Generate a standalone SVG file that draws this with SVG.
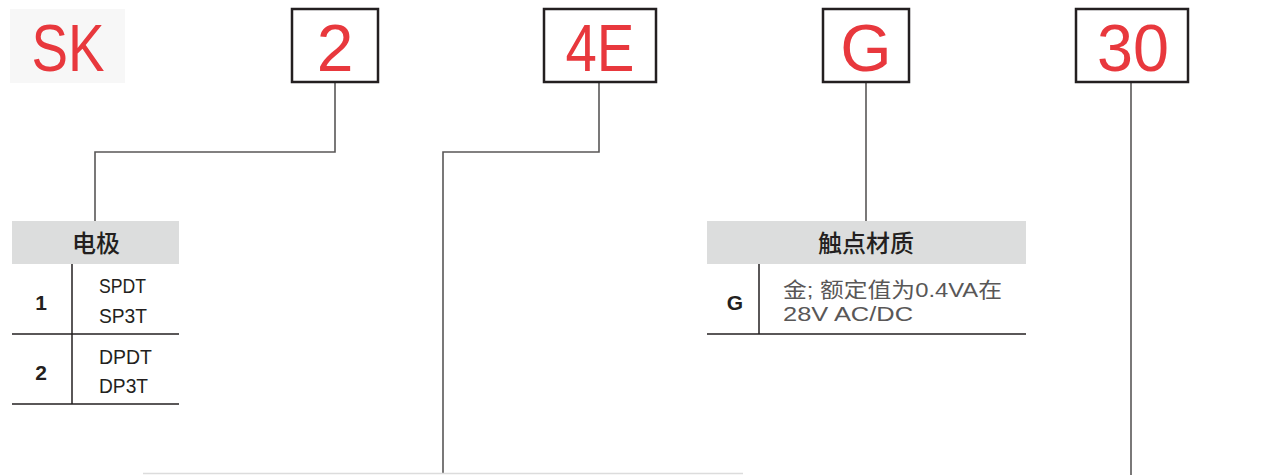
<svg xmlns="http://www.w3.org/2000/svg" width="1286" height="475" viewBox="0 0 1286 475">
<style>
.code{font-family:"Liberation Sans","Noto Sans CJK SC",sans-serif;font-size:66px;fill:#e8383d;text-anchor:middle}
.box{fill:#fff;stroke:#231f20;stroke-width:2.5}
.conn{fill:none;stroke:#595757;stroke-width:1.6}
.hdr{fill:#dcdddd}
.hdrt{font-family:"Noto Sans CJK SC",sans-serif;font-size:24px;font-weight:500;fill:#231f20;text-anchor:middle}
.rule{stroke:#231f20;stroke-width:1.5;fill:none}
.key{font-family:"Liberation Sans",sans-serif;font-size:21px;font-weight:bold;fill:#231f20;text-anchor:middle}
.val{font-family:"Liberation Sans",sans-serif;font-size:21px;fill:#231f20}
.desc{font-family:"Liberation Sans","Noto Sans CJK SC",sans-serif;font-size:21px;fill:#595757}
</style>
<rect width="1286" height="475" fill="#fff"/>
<g id="connectors">
<polyline class="conn" points="335,82 335,152 95,152 95,222"/>
<polyline class="conn" points="599,82 599,152 443,152 443,473"/>
<line class="conn" x1="866" y1="82" x2="866" y2="222"/>
<line class="conn" x1="1131" y1="82" x2="1131" y2="475"/>
<line x1="143" y1="473.5" x2="743" y2="473.5" stroke="#dcdcdc" stroke-width="1.5"/>
</g>
<g id="sk">
<rect x="10" y="9" width="115" height="74" fill="#f7f7f7"/>
<text class="code" x="68" y="71" textLength="73" lengthAdjust="spacingAndGlyphs">SK</text>
</g>
<g id="code-2">
<rect class="box" x="292" y="9" width="86" height="73"/>
<text class="code" x="335" y="71">2</text>
</g>
<g id="code-4E">
<rect class="box" x="544" y="9" width="112" height="73"/>
<text class="code" x="600" y="71" textLength="69" lengthAdjust="spacingAndGlyphs">4E</text>
</g>
<g id="code-G">
<rect class="box" x="823" y="9" width="86" height="73"/>
<text class="code" x="866" y="71">G</text>
</g>
<g id="code-30">
<rect class="box" x="1076" y="9" width="112" height="73"/>
<text class="code" x="1133" y="71" textLength="72" lengthAdjust="spacingAndGlyphs">30</text>
</g>
<g id="table-poles">
<rect class="hdr" x="12" y="221" width="167" height="43"/>
<text class="hdrt" x="96" y="252">电极</text>
<line class="rule" x1="72" y1="264" x2="72" y2="404"/>
<line class="rule" x1="12" y1="334" x2="179" y2="334"/>
<line class="rule" x1="12" y1="404" x2="179" y2="404"/>
<text class="key" x="41" y="310">1</text>
<text class="val" x="99" y="293" textLength="47" lengthAdjust="spacingAndGlyphs">SPDT</text>
<text class="val" x="99" y="323" textLength="48" lengthAdjust="spacingAndGlyphs">SP3T</text>
<text class="key" x="41" y="380">2</text>
<text class="val" x="99" y="364" textLength="53" lengthAdjust="spacingAndGlyphs">DPDT</text>
<text class="val" x="99" y="393" textLength="49" lengthAdjust="spacingAndGlyphs">DP3T</text>
</g>
<g id="table-contact">
<rect class="hdr" x="707" y="221" width="319" height="43"/>
<text class="hdrt" x="866" y="252">触点材质</text>
<line class="rule" x1="759" y1="264" x2="759" y2="334"/>
<line class="rule" x1="707" y1="334" x2="1026" y2="334"/>
<text class="key" x="735" y="310">G</text>
<text class="desc" x="783" y="297" textLength="219" lengthAdjust="spacingAndGlyphs">金; 额定值为0.4VA在</text>
<text class="desc" x="783" y="321" textLength="130" lengthAdjust="spacingAndGlyphs">28V AC/DC</text>
</g>
</svg>
